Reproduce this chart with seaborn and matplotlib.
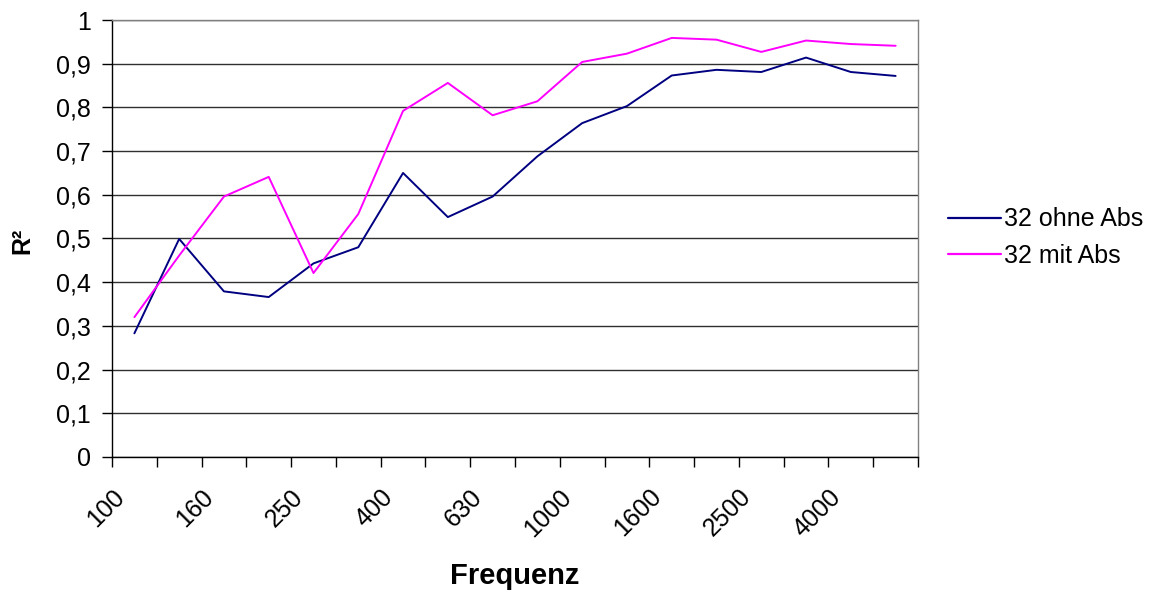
import matplotlib
matplotlib.use("Agg")
import matplotlib.pyplot as plt
import matplotlib.transforms as mtransforms
import seaborn as sns
import pandas as pd
import numpy as np
from matplotlib.ticker import MultipleLocator, FixedLocator, FuncFormatter

# Terzband-Mittenfrequenzen (Hz)
frequencies = [100, 125, 160, 200, 250, 315, 400, 500, 630, 800,
               1000, 1250, 1600, 2000, 2500, 3150, 4000, 5000]

# Bestimmtheitsmaß je Frequenzband
r2_ohne_abs = [0.283, 0.499, 0.379, 0.366, 0.443, 0.480, 0.650, 0.549, 0.596,
               0.688, 0.764, 0.803, 0.873, 0.886, 0.881, 0.914, 0.881, 0.872]
r2_mit_abs = [0.320, 0.461, 0.596, 0.641, 0.421, 0.556, 0.792, 0.856, 0.782,
              0.814, 0.904, 0.923, 0.959, 0.955, 0.927, 0.953, 0.945, 0.941]

series_names = ["32 ohne Abs", "32 mit Abs"]
series_colors = ["#000080", "#FF00FF"]

sns.set_style("white")
plt.rcParams["font.family"] = ["Liberation Sans", "DejaVu Sans"]
plt.rcParams["text.color"] = "black"
plt.rcParams["xtick.color"] = "black"
plt.rcParams["ytick.color"] = "black"
plt.rcParams["axes.labelcolor"] = "black"

positions = np.arange(len(frequencies))
df = pd.DataFrame({
    "pos": np.concatenate([positions, positions]),
    "R2": r2_ohne_abs + r2_mit_abs,
    "Serie": [series_names[0]] * len(frequencies) + [series_names[1]] * len(frequencies),
})

fig = plt.figure(figsize=(11.57, 5.99), dpi=100)
ax = fig.add_axes([112 / 1157, 1 - 457 / 599, 806 / 1157, 437 / 599])

sns.lineplot(data=df, x="pos", y="R2", hue="Serie", hue_order=series_names,
             palette=series_colors, linewidth=1.4, ax=ax, legend=True)

ax.set_xlim(-0.5, len(frequencies) - 0.5)
ax.set_ylim(0, 1)


def decimal_comma(v, _):
    if abs(v) < 1e-9:
        return "0"
    if abs(v - 1) < 1e-9:
        return "1"
    return f"{v:.1f}".replace(".", ",")


# horizontal grid
ax.yaxis.set_major_locator(MultipleLocator(0.1))
ax.yaxis.set_major_formatter(FuncFormatter(decimal_comma))
ax.grid(axis="y", color="#303030", linewidth=1.0)
ax.grid(axis="x", visible=False)
ax.set_axisbelow(True)

# category labels on every second band, tick marks between categories
ax.xaxis.set_major_locator(FixedLocator(positions[::2]))
ax.set_xticklabels([str(f) for f in frequencies[::2]], rotation=45,
                   ha="right", va="center", rotation_mode="anchor")
ax.xaxis.set_minor_locator(FixedLocator(np.arange(-0.5, len(frequencies), 1.0)))
ax.tick_params(axis="x", which="major", length=0, pad=26, labelsize=18)
ax.tick_params(axis="x", which="minor", length=7, width=1, color="#000000",
               direction="out", bottom=True)
ax.tick_params(axis="y", which="major", length=7, width=1, color="#000000",
               direction="out", left=True, labelsize=18, pad=8)

shift = mtransforms.ScaledTranslation(-14 / 100, 0, fig.dpi_scale_trans)
for lbl in ax.get_xticklabels():
    lbl.set_transform(lbl.get_transform() + shift)

for side in ["left", "bottom"]:
    ax.spines[side].set_color("#000000")
    ax.spines[side].set_linewidth(1.0)
for side in ["top", "right"]:
    ax.spines[side].set_visible(True)
    ax.spines[side].set_color("#808080")
    ax.spines[side].set_linewidth(1.0)

ax.set_xlabel("Frequenz", fontsize=21, fontweight="bold")
ax.xaxis.set_label_coords((515 - 112) / 806, (457 - 576) / 437)
ax.xaxis.label.set_va("center")

ax.set_ylabel("R²", fontsize=18, fontweight="bold")
ax.yaxis.set_label_coords((22 - 112) / 806, (457 - 241) / 437)
ax.yaxis.label.set_va("center")
ax.yaxis.label.set_ha("center")

handles, labels = ax.get_legend_handles_labels()
leg = ax.legend(handles, labels, loc="center left",
                bbox_to_anchor=((948 - 112) / 806, (457 - 237.5) / 437),
                frameon=False, fontsize=18, handlelength=2.1, handletextpad=0.15,
                labelspacing=0.5, borderpad=0, borderaxespad=0)
for h in leg.legend_handles:
    h.set_linewidth(1.6)

fig.savefig("out.png", dpi=100)
